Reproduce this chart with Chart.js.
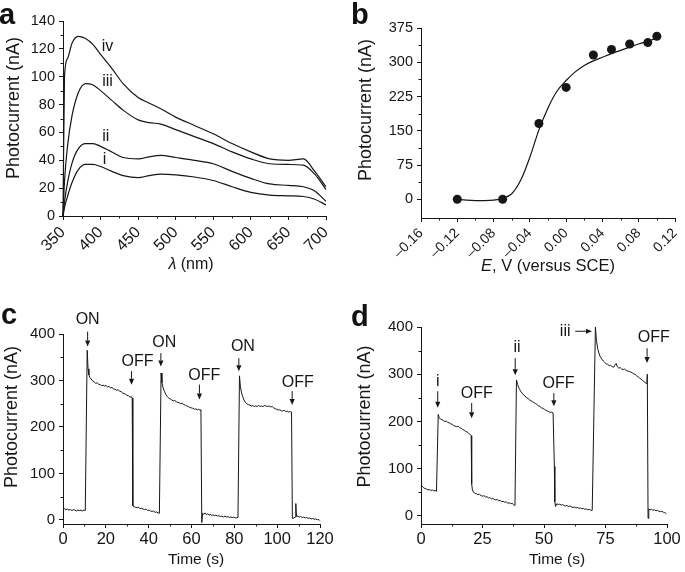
<!DOCTYPE html>
<html><head><meta charset="utf-8">
<script src="https://cdn.jsdelivr.net/npm/chart.js@4.4.1/dist/chart.umd.min.js"></script>
<style>
html,body{margin:0;padding:0;background:#fff;}
body{width:685px;height:572px;position:relative;overflow:hidden;font-family:"Liberation Sans",Arial,sans-serif;}
.p{position:absolute;}
.lbl{position:absolute;font-weight:bold;font-size:29px;line-height:1;color:#111;font-family:"Liberation Sans",Arial,sans-serif;}
</style></head><body>
<div class="p" style="left:0;top:0;width:342px;height:285px"><canvas id="ca"></canvas></div>
<div class="p" style="left:342px;top:0;width:343px;height:285px"><canvas id="cb"></canvas></div>
<div class="p" style="left:0;top:285px;width:342px;height:287px"><canvas id="cc"></canvas></div>
<div class="p" style="left:342px;top:285px;width:343px;height:287px"><canvas id="cd"></canvas></div>
<div class="lbl" style="left:-1px;top:0px">a</div>
<div class="lbl" style="left:351px;top:0px">b</div>
<div class="lbl" style="left:1px;top:300px">c</div>
<div class="lbl" style="left:351px;top:302px">d</div>
<script>
// ---------- Panel a : photocurrent spectra ----------
const wavelength=[350,352,356,362,370,380,390,400,415,430,450,465,480,500,525,550,575,600,625,650,670,685,700];
const curveI  =[0,6,14,24,33,37,37,35.5,32,29,27.5,29,30,29.5,28,25.5,21,17,15,14.5,14,12,8];
const curveII =[0,10,24,38,48,52,52,50,46,42,41,42.5,43.5,42,40,37.5,32,27,23,22,21,18,10.5];
const curveIII=[0,25,50,72,88,95,94,90,83,76,69,67,66,62,57,52,46,41,37.5,37,36.5,30,19];
const curveIV =[0,100,113,124,129,127.5,123,116,106,95,85,81,77,71,65,59,52,46,41,40,41,32,21];
const aXTicks=[350,400,450,500,550,600,650,700];
const aYTicks=[0,20,40,60,80,100,120,140];
const aCurveLabels=['i','ii','iii','iv'];
const aLabelX=[405.4,407,409.3,409.3];
const aLabelY=[40.7,57,96.4,121.5];

// ---------- Panel b : potential dependence ----------
const potential=[-0.12,-0.07,-0.03,0.00,0.03,0.05,0.07,0.09,0.10];
const photocurrentB=[0,0,166,245,316,328,340,343,357];
const fitPotential=[-0.12,-0.11,-0.10,-0.09,-0.08,-0.07,-0.06,-0.05,-0.04,-0.03,-0.02,-0.01,0.00,0.01,0.02,0.03,0.04,0.05,0.06,0.07,0.08,0.09,0.10];
const fitCurrent=[0,-2,-3,-3,-2,2,12,42,92,152,200,237,260,279,293,303,311,319,326,333,340,346,353];
const bXTicks=[-0.16,-0.12,-0.08,-0.04,0.00,0.04,0.08,0.12];
const bXTickLabels=['\u20130.16','\u20130.12','\u20130.08','\u20130.04','0.00','0.04','0.08','0.12'];
const bYTicks=[0,75,150,225,300,375];

// ---------- Panel c : ON/OFF switching ----------
const cTime=[0,0.7,1.4,2.1,2.8,3.5,4.2,4.9,5.6,6.3,7,7.7,8.4,9.1,9.8,10.4,
11.3,11.7,12.1,12.6,13.2,13.8,14.5,15.2,15.9,16.6,17.3,18,18.7,19.4,20.1,20.8,21.5,22.2,22.9,23.6,24.3,25,25.7,26.4,27.1,27.8,28.5,29.2,29.9,30.6,31.3,32,32.3,
32.6,33.2,33.9,34.6,35.3,36,36.7,37.4,38.1,38.8,39.5,40.2,40.9,41.6,42.3,43,43.7,44.4,45,
45.8,46.2,46.7,47.3,48,48.7,49.4,50.1,50.8,51.5,52.2,52.9,53.6,54.3,55,55.7,56.4,57.1,57.8,58.5,59.2,59.9,60.6,61.3,62,62.7,63.4,64,64.4,
64.8,65.2,65.8,66.4,67,67.6,68.2,68.8,69.4,70,70.7,71.4,72.1,72.8,73.5,74.2,74.9,75.6,76.3,77,77.7,78.4,79.1,79.8,80.5,81.2,81.7,
82.4,82.8,83.3,83.9,84.5,85.1,85.8,86.5,87.2,87.9,88.6,89.3,90,90.7,91.4,92.1,92.8,93.5,94.2,94.9,95.6,96.3,97,97.7,98.4,99.1,99.8,100.5,101.2,101.9,102.6,103.3,104,104.7,105.4,106.1,106.7,
107.1,107.8,108.4,108.7,109,109.6,110.3,111,111.7,112.4,113.1,113.8,114.5,115.2,115.9,116.6,117.3,118,118.7,119.4,120];
const cCurrent=[22,24,22,23,21,22,20,22,21,19,21,20,21,19,21,20,
365,325,312,306,303,299,297,294,295,292,291,289,290,288,289,286,287,284,285,282,281,279,280,277,276,273,272,270,268,267,264,265,262,
30,28,27,26,27,24,25,23,22,23,20,21,19,18,19,16,17,15,14,
316,295,285,277,270,265,262,260,258,256,257,254,253,252,250,251,248,247,245,244,242,241,240,238,239,237,238,236,237,
-6,14,12,15,11,13,10,12,9,11,9,10,8,9,7,8,6,8,6,7,5,6,5,6,4,5,5,
310,288,275,265,258,253,250,248,247,245,246,244,245,244,246,244,245,244,246,245,244,245,243,244,241,239,238,236,237,235,234,236,233,234,232,233,232,
3,4,6,35,7,8,6,7,5,6,4,5,3,4,2,3,1,2,0,1,-2];
const cXTicks=[0,20,40,60,80,100,120];
const cYTicks=[0,100,200,300,400];
const cNotes=['ON','OFF','ON','OFF','ON','OFF'];
const cNoteX=[11.5,34.8,47.3,66,84,109.6];
const cNoteY=[431,340,381,311,372,295];
const cArrowX=[11.5,32,45.7,63.7,82.1,107];
const cArrowFrom=[405,320,359,291,348,277];
const cArrowTo=[373,291,330,259,320,247];

// ---------- Panel d : sequential illumination ----------
const dTime=[0,0.5,1,1.6,2.2,2.8,3.4,4,4.6,5.2,5.8,6.3,
7,7.4,7.9,8.5,9.1,9.7,10.3,10.9,11.5,12.1,12.7,13.3,13.9,14.5,15.1,15.7,16.3,16.9,17.5,18.1,18.7,19.3,19.9,20.4,
20.6,20.9,21.4,22,22.6,23.2,23.8,24.4,25,25.6,26.2,26.8,27.4,28,28.6,29.2,29.8,30.4,31,31.6,32.2,32.8,33.4,34,34.6,35.2,35.8,36.4,37,37.6,38.2,
38.8,39.3,39.9,40.5,41.1,41.7,42.3,42.9,43.5,44.1,44.7,45.3,45.9,46.5,47.1,47.7,48.3,48.9,49.5,50.1,50.7,51.3,51.9,52.5,53.1,53.7,54,
54.2,54.4,54.7,55.2,55.8,56.4,57,57.6,58.2,58.8,59.4,60,60.6,61.2,61.8,62.4,63,63.6,64.2,64.8,65.4,66,66.6,67.2,67.8,68.4,69,69.6,
70.9,71.3,71.8,72.3,72.9,73.5,74.1,74.7,75.3,75.9,76.5,77.1,77.7,78.3,78.9,79.3,79.8,80.4,81,81.6,82.2,82.8,83.4,84,84.6,85.2,85.8,86.4,87,87.6,88.2,88.8,89.4,90,90.6,91.2,91.8,92,
92.3,92.6,93.1,93.7,94.3,94.9,95.5,96.1,96.7,97.3,97.9,98.5,99.1,99.7];
const dCurrent=[65,63,60,58,57,55,56,54,55,53,54,52,
215,208,205,204,202,200,201,198,197,195,194,191,190,189,190,187,186,183,182,179,178,175,173,170,
68,55,50,48,47,45,46,43,42,43,40,41,38,39,36,37,35,34,35,32,33,30,31,29,30,27,28,26,27,24,22,
288,278,270,264,260,256,254,250,249,246,244,242,240,238,236,233,232,229,228,226,224,222,221,219,220,218,218,
105,30,20,26,24,25,23,24,22,21,22,20,21,19,18,19,17,18,16,17,15,16,14,15,13,14,12,12,
400,372,355,345,337,332,328,325,322,321,318,319,316,315,320,323,316,313,314,311,310,311,308,307,306,305,303,301,300,297,295,292,290,287,285,282,280,300,
-5,15,13,14,12,13,11,12,10,9,10,8,7,5];
const dXTicks=[0,25,50,75,100];
const dYTicks=[0,100,200,300,400];
const dNotes=['i','OFF','ii','OFF','iii','OFF'];
const dNoteX=[6.8,22.7,39,55.9,58.6,94.6];
const dNoteY=[285,260,356,281,390,377];
const dArrowX1=[6.8,20.6,38.3,54,62.7,91.9];
const dArrowY1=[264,239,334,260,391,355];
const dArrowX2=[6.8,20.6,38.3,54,69.5,91.9];
const dArrowY2=[229,207,298,232,391,324];

// ---------- helpers ----------
const FAM='"Liberation Sans", Arial, sans-serif';
const INK='#161616';
const extras={};

const extraPlugin={
  id:'extras',
  afterDraw(chart){
    const ex=extras[chart.canvas.id]; if(!ex) return;
    const ctx=chart.ctx, xs=chart.scales.x, ys=chart.scales.y, ca=chart.chartArea;
    ctx.save();
    ctx.strokeStyle=INK; ctx.fillStyle=INK; ctx.lineWidth=1;
    const mx=xs.ticks.map(t=>t.value);
    ctx.beginPath();
    for(let i=0;i<mx.length-1;i++){
      const px=Math.round(xs.getPixelForValue((mx[i]+mx[i+1])/2))+0.5;
      ctx.moveTo(px,ca.bottom); ctx.lineTo(px,ca.bottom+2.5);
    }
    const my=ys.ticks.map(t=>t.value);
    for(let i=0;i<my.length-1;i++){
      const py=Math.round(ys.getPixelForValue((my[i]+my[i+1])/2))+0.5;
      ctx.moveTo(ca.left,py); ctx.lineTo(ca.left-2.5,py);
    }
    ctx.stroke();
    ctx.font='16px '+FAM; ctx.textAlign='center'; ctx.textBaseline='middle';
    (ex.notes||[]).forEach(n=>{ ctx.fillText(n.t, xs.getPixelForValue(n.x), ys.getPixelForValue(n.y)); });
    (ex.arrows||[]).forEach(a=>{
      const x1=xs.getPixelForValue(a.x1), y1=ys.getPixelForValue(a.y1);
      const x2=xs.getPixelForValue(a.x2), y2=ys.getPixelForValue(a.y2);
      const ang=Math.atan2(y2-y1,x2-x1), hl=6, hw=2.6;
      const bx=x2-hl*Math.cos(ang), by=y2-hl*Math.sin(ang);
      ctx.beginPath(); ctx.moveTo(x1,y1); ctx.lineTo(bx,by); ctx.stroke();
      ctx.beginPath(); ctx.moveTo(x2,y2);
      ctx.lineTo(bx+hw*Math.sin(ang), by-hw*Math.cos(ang));
      ctx.lineTo(bx-hw*Math.sin(ang), by+hw*Math.cos(ang));
      ctx.closePath(); ctx.fill();
    });
    (ex.titles||[]).forEach(tt=>{
      ctx.save();
      ctx.translate(tt.cx,tt.cy); ctx.rotate(tt.rot||0);
      let total=0;
      const parts=tt.parts.map(p=>{ const f=(p.i?'italic ':'')+tt.size+'px '+FAM; ctx.font=f; const w=ctx.measureText(p.t).width; total+=w; return {t:p.t,f,w}; });
      let x=-total/2; ctx.textAlign='left'; ctx.textBaseline='middle';
      parts.forEach(p=>{ ctx.font=p.f; ctx.fillText(p.t,x,0); x+=p.w; });
      ctx.restore();
    });
    ctx.restore();
  }
};

function axis(opts){
  return {
    type:'linear', min:opts.min, max:opts.max,
    grid:{display:true, drawOnChartArea:false, drawTicks:true, tickLength:4, color:INK, lineWidth:1},
    border:{display:true, color:INK, width:1},
    ticks:{color:INK, font:{family:FAM, size:opts.size}, padding:opts.pad, autoSkip:false,
      minRotation:opts.rot||0, maxRotation:opts.rot||0,
      callback:(v,i)=> opts.labels ? opts.labels[i] : String(opts.vals[i])},
    afterBuildTicks:(s)=>{ s.ticks=opts.vals.map(v=>({value:v})); },
    afterFit:(s)=>{
      if(opts.w!==undefined) s.width=opts.w;
      if(opts.h!==undefined) s.height=opts.h;
      s.paddingLeft=0; s.paddingRight=0; s.paddingTop=0; s.paddingBottom=0;
    },
    title:{display:false}
  };
}

function pts(xs,ys){ return xs.map((x,i)=>({x, y:ys[i]})); }

function make(id, datasets, lay, xa, ya){
  return new Chart(document.getElementById(id),{
    type:'line',
    data:{datasets},
    options:{
      responsive:true, maintainAspectRatio:false, animation:false, devicePixelRatio:1,
      layout:{padding:{left:0, right:lay.R, top:lay.T, bottom:0}},
      plugins:{legend:{display:false}, tooltip:{enabled:false}},
      scales:{x:axis(xa), y:axis(ya)},
      elements:{point:{radius:0}}
    },
    plugins:[extraPlugin]
  });
}

const lineStyle={borderColor:INK, borderWidth:1.2, pointRadius:0, fill:false, clip:3};

extras.ca={
  notes:aCurveLabels.map((t,i)=>({t, x:aLabelX[i], y:aLabelY[i]})),
  titles:[
    {parts:[{t:'Photocurrent (nA)'}], size:18, cx:14, cy:108, rot:-Math.PI/2},
    {parts:[{t:'\u03bb',i:true},{t:' (nm)'}], size:16, cx:191, cy:265}
  ]
};
make('ca',[
  Object.assign({data:pts(wavelength,curveI), cubicInterpolationMode:'monotone'},lineStyle),
  Object.assign({data:pts(wavelength,curveII), cubicInterpolationMode:'monotone'},lineStyle),
  Object.assign({data:pts(wavelength,curveIII), cubicInterpolationMode:'monotone'},lineStyle),
  Object.assign({data:pts(wavelength,curveIV), cubicInterpolationMode:'monotone'},lineStyle)
],{R:16,T:21},
{min:350,max:700,vals:aXTicks,size:16,pad:3,rot:45,h:69},
{min:0,max:140,vals:aYTicks,size:14.5,pad:4,w:63});

extras.cb={
  titles:[
    {parts:[{t:'Photocurrent (nA)'}], size:18, cx:24, cy:110, rot:-Math.PI/2},
    {parts:[{t:'E',i:true},{t:', V (versus SCE)'}], size:16.5, cx:206, cy:266}
  ]
};
make('cb',[
  Object.assign({data:pts(fitPotential,fitCurrent), cubicInterpolationMode:'monotone'},lineStyle),
  {data:pts(potential,photocurrentB), showLine:false, pointRadius:4.5, pointBackgroundColor:INK, pointBorderColor:INK, pointBorderWidth:0, clip:false}
],{R:10,T:28},
{min:-0.16,max:0.12,vals:bXTicks,labels:bXTickLabels,size:14,pad:3,rot:45,h:67},
{min:-41,max:375,vals:bYTicks,size:14.5,pad:4,w:79});

extras.cc={
  notes:cNotes.map((t,i)=>({t, x:cNoteX[i], y:cNoteY[i]})),
  arrows:cArrowX.map((x,i)=>({x1:x,y1:cArrowFrom[i],x2:x,y2:cArrowTo[i]})),
  titles:[
    {parts:[{t:'Photocurrent (nA)'}], size:18, cx:12.5, cy:132, rot:-Math.PI/2},
    {parts:[{t:'Time (s)'}], size:15.5, cx:196, cy:275}
  ]
};
make('cc',[
  Object.assign({data:pts(cTime,cCurrent), tension:0},lineStyle,{borderWidth:1})
],{R:22,T:49},
{min:0,max:120,vals:cXTicks,size:16.5,pad:2,h:48},
{min:-9,max:400,vals:cYTicks,size:15,pad:4,w:63});

extras.cd={
  notes:dNotes.map((t,i)=>({t, x:dNoteX[i], y:dNoteY[i]})),
  arrows:dArrowX1.map((x,i)=>({x1:x,y1:dArrowY1[i],x2:dArrowX2[i],y2:dArrowY2[i]})),
  titles:[
    {parts:[{t:'Photocurrent (nA)'}], size:18, cx:23.5, cy:131.5, rot:-Math.PI/2},
    {parts:[{t:'Time (s)'}], size:15.5, cx:215, cy:275}
  ]
};
make('cd',[
  Object.assign({data:pts(dTime,dCurrent), tension:0},lineStyle,{borderWidth:1})
],{R:18,T:42},
{min:0,max:100,vals:dXTicks,size:16.5,pad:2,h:48},
{min:-17,max:400,vals:dYTicks,size:15,pad:4,w:79});
</script>
</body></html>
